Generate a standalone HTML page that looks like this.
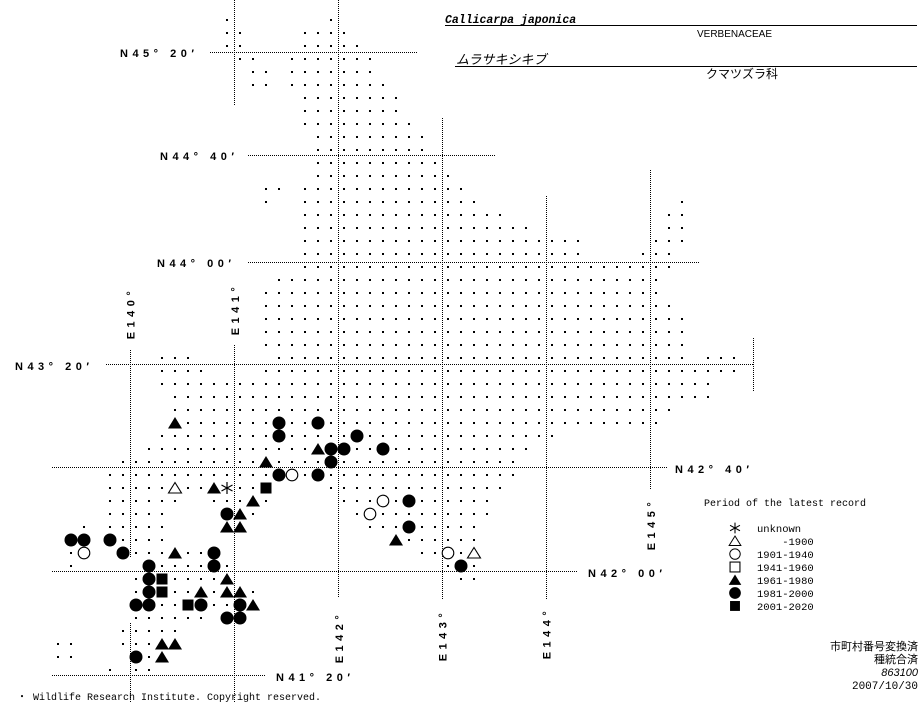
<!DOCTYPE html>
<html><head><meta charset="utf-8"><style>
html,body{margin:0;padding:0;background:#fff;}
svg{display:block;}
.lb{font-family:"Liberation Sans",sans-serif;font-weight:bold;font-size:11px;letter-spacing:4.5px;fill:#000;}
.mono{font-family:"Liberation Mono",monospace;font-size:10px;fill:#000;}
.jp{font-family:"Liberation Sans","Noto Sans CJK JP",sans-serif;fill:#000;}
</style></head><body>
<svg width="923" height="703" viewBox="0 0 923 703" xmlns="http://www.w3.org/2000/svg">
<defs>
<pattern id="dp" patternUnits="userSpaceOnUse" x="0" y="0" width="1" height="1">
<rect x="0.423" y="0.423" width="0.154" height="0.154" fill="#000"/>
</pattern>
<circle id="c" r="6.5" fill="#000"/>
<circle id="o" r="5.8" fill="#fff" stroke="#000" stroke-width="1.1"/>
<polygon id="t" points="0,-6 7,5.5 -7,5.5" fill="#000"/>
<polygon id="T" points="0,-5.5 6.5,5 -6.5,5" fill="#fff" stroke="#000" stroke-width="1.1"/>
<rect id="s" x="-5.5" y="-5.5" width="11" height="11" fill="#000"/>
<g id="x"><rect x="-6" y="-6" width="12" height="12" fill="#fff"/><path d="M0,-6V6M-5.5,-3L5.5,3M-5.5,3L5.5,-3" stroke="#000" stroke-width="1.2"/></g>
</defs>

<g stroke="#000" stroke-width="1" stroke-dasharray="1 1" fill="none">
<path d="M210,52.5H417"/>
<path d="M248,155.5H495"/>
<path d="M248,262.5H699"/>
<path d="M106,364.5H753"/>
<path d="M52,467.5H668"/>
<path d="M52,571.5H577"/>
<path d="M52,675.5H265"/>
<path d="M130.5,350V558M130.5,623V703"/>
<path d="M234.5,0V105M234.5,345V703"/>
<path d="M338.5,0V598"/>
<path d="M442.5,118V600"/>
<path d="M546.5,196V600"/>
<path d="M650.5,170V490"/>
<path d="M753.5,338V391"/>
</g>

<g transform="translate(220.5,13.5) scale(13)" fill="url(#dp)">
<rect x="0" y="0" width="1" height="1"/><rect x="8" y="0" width="1" height="1"/>
<rect x="0" y="1" width="2" height="1"/><rect x="6" y="1" width="4" height="1"/>
<rect x="0" y="2" width="2" height="1"/><rect x="6" y="2" width="5" height="1"/>
<rect x="1" y="3" width="2" height="1"/><rect x="5" y="3" width="7" height="1"/>
<rect x="2" y="4" width="2" height="1"/><rect x="5" y="4" width="7" height="1"/>
<rect x="2" y="5" width="2" height="1"/><rect x="5" y="5" width="8" height="1"/>
<rect x="6" y="6" width="8" height="1"/>
<rect x="6" y="7" width="8" height="1"/>
<rect x="6" y="8" width="9" height="1"/>
<rect x="7" y="9" width="9" height="1"/>
<rect x="7" y="10" width="9" height="1"/>
<rect x="7" y="11" width="10" height="1"/>
<rect x="7" y="12" width="11" height="1"/>
<rect x="3" y="13" width="2" height="1"/><rect x="6" y="13" width="13" height="1"/>
<rect x="3" y="14" width="1" height="1"/><rect x="6" y="14" width="14" height="1"/><rect x="35" y="14" width="1" height="1"/>
<rect x="6" y="15" width="16" height="1"/><rect x="34" y="15" width="2" height="1"/>
<rect x="6" y="16" width="18" height="1"/><rect x="34" y="16" width="2" height="1"/>
<rect x="6" y="17" width="22" height="1"/><rect x="33" y="17" width="3" height="1"/>
<rect x="6" y="18" width="22" height="1"/><rect x="32" y="18" width="3" height="1"/>
<rect x="6" y="19" width="29" height="1"/>
<rect x="4" y="20" width="30" height="1"/>
<rect x="3" y="21" width="31" height="1"/>
<rect x="3" y="22" width="32" height="1"/>
<rect x="3" y="23" width="33" height="1"/>
<rect x="3" y="24" width="33" height="1"/>
<rect x="3" y="25" width="33" height="1"/>
<rect x="-5" y="26" width="3" height="1"/><rect x="4" y="26" width="32" height="1"/><rect x="37" y="26" width="3" height="1"/>
<rect x="-5" y="27" width="4" height="1"/><rect x="3" y="27" width="37" height="1"/>
<rect x="-5" y="28" width="43" height="1"/>
<rect x="-4" y="29" width="42" height="1"/>
<rect x="-4" y="30" width="39" height="1"/>
<rect x="-4" y="31" width="38" height="1"/>
<rect x="-5" y="32" width="31" height="1"/>
<rect x="-6" y="33" width="30" height="1"/>
<rect x="-8" y="34" width="31" height="1"/>
<rect x="-9" y="35" width="32" height="1"/>
<rect x="-9" y="36" width="13" height="1"/><rect x="8" y="36" width="14" height="1"/>
<rect x="-9" y="37" width="6" height="1"/><rect x="-1" y="37" width="5" height="1"/><rect x="9" y="37" width="12" height="1"/>
<rect x="-9" y="38" width="5" height="1"/><rect x="0" y="38" width="3" height="1"/><rect x="10" y="38" width="11" height="1"/>
<rect x="-11" y="39" width="1" height="1"/><rect x="-9" y="39" width="5" height="1"/><rect x="0" y="39" width="2" height="1"/><rect x="11" y="39" width="9" height="1"/>
<rect x="-12" y="40" width="2" height="1"/><rect x="-9" y="40" width="5" height="1"/><rect x="13" y="40" width="7" height="1"/>
<rect x="-12" y="41" width="2" height="1"/><rect x="-8" y="41" width="8" height="1"/><rect x="15" y="41" width="5" height="1"/>
<rect x="-12" y="42" width="1" height="1"/><rect x="-6" y="42" width="7" height="1"/><rect x="17" y="42" width="3" height="1"/>
<rect x="-7" y="43" width="8" height="1"/><rect x="18" y="43" width="2" height="1"/>
<rect x="-7" y="44" width="10" height="1"/>
<rect x="-7" y="45" width="10" height="1"/>
<rect x="-7" y="46" width="6" height="1"/><rect x="0" y="46" width="2" height="1"/>
<rect x="-8" y="47" width="5" height="1"/>
<rect x="-13" y="48" width="2" height="1"/><rect x="-8" y="48" width="5" height="1"/>
<rect x="-13" y="49" width="2" height="1"/><rect x="-7" y="49" width="3" height="1"/>
<rect x="-9" y="50" width="1" height="1"/><rect x="-7" y="50" width="2" height="1"/>
</g>

<use href="#t" x="175" y="423"/><use href="#c" x="279" y="423"/><use href="#c" x="318" y="423"/>
<use href="#c" x="279" y="436"/><use href="#c" x="357" y="436"/>
<use href="#t" x="318" y="449"/><use href="#c" x="331" y="449"/><use href="#c" x="344" y="449"/><use href="#c" x="383" y="449"/>
<use href="#t" x="266" y="462"/><use href="#c" x="331" y="462"/>
<use href="#c" x="279" y="475"/><use href="#o" x="292" y="475"/><use href="#c" x="318" y="475"/>
<use href="#T" x="175" y="488"/><use href="#t" x="214" y="488"/><use href="#x" x="227" y="488"/><use href="#s" x="266" y="488"/>
<use href="#t" x="253" y="501"/><use href="#o" x="383" y="501"/><use href="#c" x="409" y="501"/>
<use href="#c" x="227" y="514"/><use href="#t" x="240" y="514"/><use href="#o" x="370" y="514"/>
<use href="#t" x="227" y="527"/><use href="#t" x="240" y="527"/><use href="#c" x="409" y="527"/>
<use href="#c" x="71" y="540"/><use href="#c" x="84" y="540"/><use href="#c" x="110" y="540"/><use href="#t" x="396" y="540"/>
<use href="#o" x="84" y="553"/><use href="#c" x="123" y="553"/><use href="#t" x="175" y="553"/><use href="#c" x="214" y="553"/><use href="#o" x="448" y="553"/><use href="#T" x="474" y="553"/>
<use href="#c" x="149" y="566"/><use href="#c" x="214" y="566"/><use href="#c" x="461" y="566"/>
<use href="#c" x="149" y="579"/><use href="#s" x="162" y="579"/><use href="#t" x="227" y="579"/>
<use href="#c" x="149" y="592"/><use href="#s" x="162" y="592"/><use href="#t" x="201" y="592"/><use href="#t" x="227" y="592"/><use href="#t" x="240" y="592"/>
<use href="#c" x="136" y="605"/><use href="#c" x="149" y="605"/><use href="#s" x="188" y="605"/><use href="#c" x="201" y="605"/><use href="#c" x="240" y="605"/><use href="#t" x="253" y="605"/>
<use href="#c" x="227" y="618"/><use href="#c" x="240" y="618"/>
<use href="#t" x="162" y="644"/><use href="#t" x="175" y="644"/>
<use href="#c" x="136" y="657"/><use href="#t" x="162" y="657"/>

<text class="lb" x="120" y="57">N45° 20′</text>
<text class="lb" x="160" y="160">N44° 40′</text>
<text class="lb" x="157" y="267">N44° 00′</text>
<text class="lb" x="15" y="370">N43° 20′</text>
<text class="lb" x="675" y="473">N42° 40′</text>
<text class="lb" x="588" y="577">N42° 00′</text>
<text class="lb" x="276" y="681">N41° 20′</text>
<text class="lb" text-anchor="middle" transform="translate(134.5,313) rotate(-90)">E140°</text>
<text class="lb" text-anchor="middle" transform="translate(239,309) rotate(-90)">E141°</text>
<text class="lb" text-anchor="middle" transform="translate(343,637) rotate(-90)">E142°</text>
<text class="lb" text-anchor="middle" transform="translate(446.5,635) rotate(-90)">E143°</text>
<text class="lb" text-anchor="middle" transform="translate(550.5,633) rotate(-90)">E144°</text>
<text class="lb" text-anchor="middle" transform="translate(655,524) rotate(-90)">E145°</text>

<text x="445" y="23" style="font-family:'Liberation Mono',monospace;font-weight:bold;font-style:italic;font-size:11.5px" fill="#000">Callicarpa japonica</text>
<path d="M445,25.5H917M455,66.5H917" stroke="#000" stroke-width="1"/>
<text class="jp" x="697" y="37" style="font-size:10px">VERBENACEAE</text>
<text class="jp" x="456" y="64" style="font-size:13px;font-style:italic">ムラサキシキブ</text>
<text class="jp" x="706" y="78" style="font-size:12px">クマツズラ科</text>

<text class="mono" x="704" y="506">Period of the latest record</text>
<g transform="translate(735,0) scale(0.9)">
<use href="#x" x="0" y="586.7"/>
<use href="#T" x="0" y="601.1"/>
<use href="#o" x="0" y="615.6"/>
<rect x="-5.5" y="624.5" width="11" height="11" fill="#fff" stroke="#000" stroke-width="1.2"/>
<use href="#t" x="0" y="644.4"/>
<use href="#c" x="0" y="658.9"/>
<use href="#s" x="0" y="673.3"/>
</g>
<g class="mono" style="font-size:10.5px">
<text x="757" y="532">unknown</text>
<text x="757" y="545" xml:space="preserve">    -1900</text>
<text x="757" y="558">1901-1940</text>
<text x="757" y="571">1941-1960</text>
<text x="757" y="584">1961-1980</text>
<text x="757" y="597">1981-2000</text>
<text x="757" y="610">2001-2020</text>
</g>
<g class="jp" text-anchor="end" style="font-size:11px">
<text x="918" y="650">市町村番号変換済</text>
<text x="918" y="663">種統合済</text>
<text x="918" y="676" style="font-style:italic">863100</text>
<text x="918" y="689" style="font-family:'Liberation Mono',monospace">2007/10/30</text>
</g>
<text class="mono" x="17" y="700">・ Wildlife Research Institute. Copyright reserved.</text>
</svg>
</body></html>
